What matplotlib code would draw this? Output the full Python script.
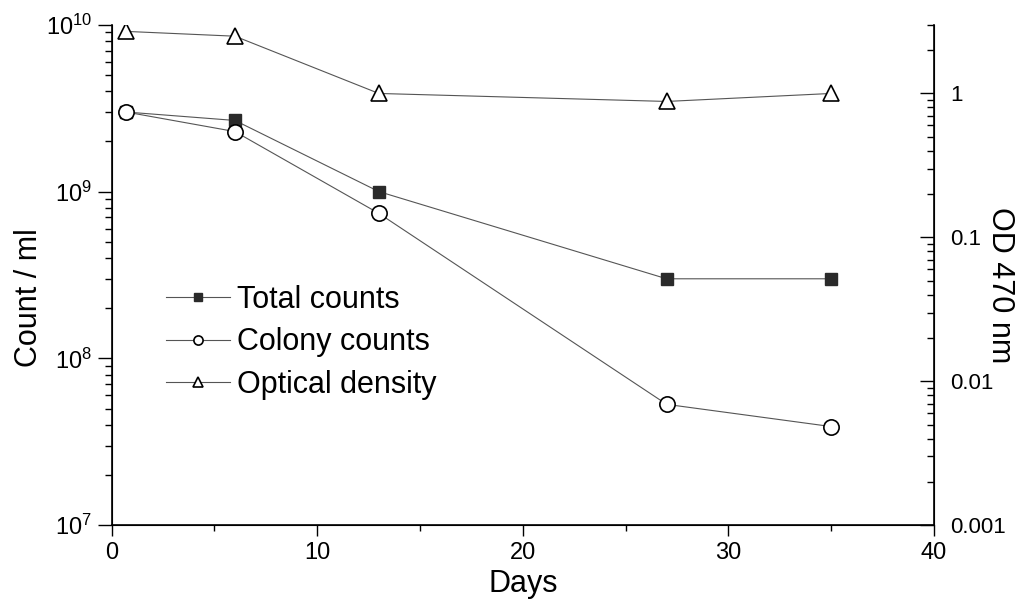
import matplotlib
matplotlib.use('Agg')
import matplotlib.pyplot as plt
from matplotlib.ticker import LogLocator, FuncFormatter, MultipleLocator, NullFormatter

plt.rcParams['font.family'] = ['Liberation Sans', 'DejaVu Sans']
plt.rcParams['mathtext.fontset'] = 'custom'
plt.rcParams['mathtext.rm'] = 'Liberation Sans'
plt.rcParams['mathtext.it'] = 'Liberation Sans'

# data
days = [0.7, 6, 13, 27, 35]
total_counts = [3.0e9, 2.67e9, 1.0e9, 3.0e8, 3.0e8]
colony_counts = [3.0e9, 2.29e9, 7.4e8, 5.3e7, 3.9e7]
optical_density = [2.7, 2.5, 1.0, 0.88, 1.0]

line_col = '#555555'

fig = plt.figure(figsize=(10.24, 6.05), dpi=100)
ax = fig.add_axes([0.109, 0.132, 0.803, 0.827])
ax2 = ax.twinx()

l1, = ax.plot(days, total_counts, '-', color=line_col, lw=0.8, marker='s', ms=9,
              mfc='#2a2a2a', mec='#2a2a2a', zorder=3)
l2, = ax.plot(days, colony_counts, '-', color=line_col, lw=0.8, marker='o', ms=11,
              mfc='white', mec='black', mew=1.2, zorder=4)
l3, = ax2.plot(days, optical_density, '-', color=line_col, lw=0.8, marker='^', ms=12,
               mfc='white', mec='black', mew=1.2)

ax.set_yscale('log')
ax.set_ylim(1e7, 1e10)
ax.set_xlim(0, 40)
ax2.set_yscale('log')
ax2.set_ylim(0.001, 3.0)

ax.xaxis.set_major_locator(MultipleLocator(10))
ax.xaxis.set_minor_locator(MultipleLocator(5))
ax.yaxis.set_major_locator(LogLocator(base=10, numticks=10))
ax.yaxis.set_minor_locator(LogLocator(base=10, subs=range(2, 10), numticks=20))
ax.yaxis.set_minor_formatter(NullFormatter())
ax2.yaxis.set_major_locator(LogLocator(base=10, numticks=10))
ax2.yaxis.set_minor_locator(LogLocator(base=10, subs=range(2, 10), numticks=20))
ax2.yaxis.set_minor_formatter(NullFormatter())
ax2.yaxis.set_major_formatter(FuncFormatter(lambda v, p: '%g' % v))

ax.spines['top'].set_visible(False)
ax2.spines['top'].set_visible(False)
for s in ['left', 'bottom']:
    ax.spines[s].set_linewidth(1.2)
ax2.spines['right'].set_linewidth(1.2)

ax.tick_params(axis='x', which='major', direction='out', length=8, width=1, labelsize=17, pad=4)
ax.tick_params(axis='x', which='minor', direction='out', length=4, width=1)
ax.tick_params(axis='y', which='major', direction='out', length=10, width=1, labelsize=17, pad=4)
ax.tick_params(axis='y', which='minor', direction='out', length=5, width=1)
ax2.tick_params(axis='y', which='major', direction='in', length=10, width=1, labelsize=16, pad=12)
ax2.tick_params(axis='y', which='minor', direction='in', length=5, width=1)

ax.set_xlabel('Days', fontsize=22, labelpad=4)
ax.set_ylabel('Count / ml', fontsize=22, va='center', ha='center')
ax.yaxis.set_label_coords(-0.1, 0.455)
ax2.set_ylabel('OD 470 nm', fontsize=22, rotation=270, va='center', ha='center')
ax2.yaxis.set_label_coords(1.08, 0.48)

leg = ax.legend([l1, l2, l3], ['Total counts', 'Colony counts', 'Optical density'],
                loc='upper left', bbox_to_anchor=(0.150, 0.549), bbox_transform=fig.transFigure,
                frameon=False, fontsize=22, markerscale=0.6, handlelength=2.1,
                handletextpad=0.23, labelspacing=0.4, borderaxespad=0)
leg.set_zorder(10)

plt.savefig('out.png', dpi=100)
